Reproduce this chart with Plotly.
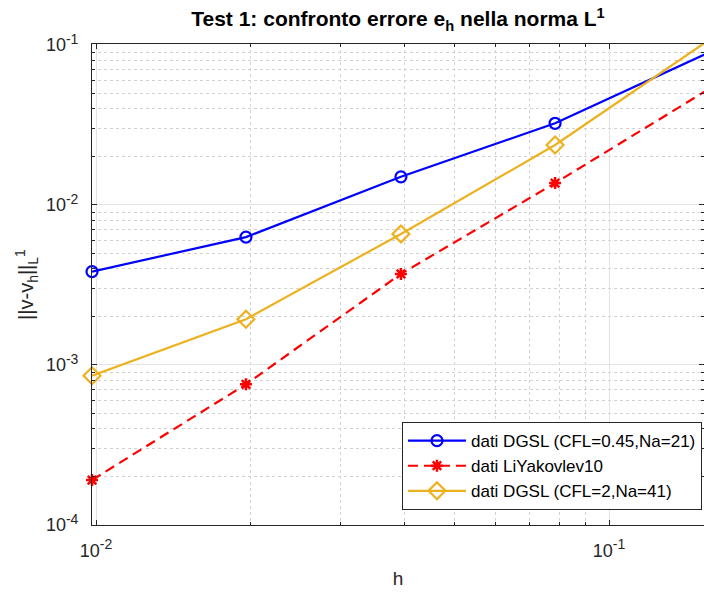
import numpy as np
import plotly.graph_objects as go

h = [0.00982, 0.0196, 0.0393, 0.0785, 0.157]
err_dgsl_045 = [0.00383, 0.0063, 0.0150, 0.0324, 0.090]
err_liyak = [0.000191, 0.000757, 0.00371, 0.0137, 0.0533]
err_dgsl_2 = [0.000857, 0.00193, 0.00659, 0.0237, 0.108]

names = ["dati DGSL (CFL=0.45,Na=21)", "dati LiYakovlev10", "dati DGSL (CFL=2,Na=41)"]
xtick_vals = [0.01, 0.1]
xtick_exp = ["-2", "-1"]
ytick_vals = [1e-4, 1e-3, 1e-2, 1e-1]
ytick_exp = ["-4", "-3", "-2", "-1"]

FONT = "Liberation Sans, Arial, sans-serif"


def pow_label(e):
    return "10<sup><span style='font-size:14px'>" + e + "</span></sup>"


fig = go.Figure()
fig.add_trace(go.Scatter(x=h, y=err_dgsl_045, name=names[0], mode="lines+markers",
                         line=dict(color="#0000FF", width=2.2),
                         marker=dict(symbol="circle-open", size=11, line=dict(width=2.2, color="#0000FF")),
                         cliponaxis=False))
fig.add_trace(go.Scatter(x=h, y=err_liyak, name=names[1], mode="lines+markers",
                         line=dict(color="#FF0000", width=2.2, dash="10px,6px"),
                         marker=dict(symbol="asterisk-open", size=10, line=dict(width=2.5, color="#FF0000")),
                         cliponaxis=False))
fig.add_trace(go.Scatter(x=h, y=err_dgsl_2, name=names[2], mode="lines+markers",
                         line=dict(color="#EDB120", width=2.2),
                         marker=dict(symbol="diamond-open", size=13, line=dict(width=2.2, color="#EDB120")),
                         cliponaxis=False))

xminor = [m * 10.0**e for e in (-3, -2, -1) for m in range(2, 10)]
yminor = [m * 10.0**e for e in (-5, -4, -3, -2, -1) for m in range(2, 10)]

axis_common = dict(
    type="log", showline=True, linecolor="#262626", linewidth=1, mirror="allticks",
    ticks="inside", ticklen=5, tickcolor="#262626", automargin=False,
    showgrid=True, gridcolor="#e2e2e2", gridwidth=1, zeroline=False,
    tickfont=dict(family=FONT, size=18, color="#262626"),
)

fig.update_xaxes(**axis_common,
                 range=[np.log10(0.00982), -0.8148],
                 tickmode="array", tickvals=xtick_vals,
                 ticktext=[pow_label(e) for e in xtick_exp],
                 ticklabelstandoff=9,
                 minor=dict(tickmode="array", tickvals=xminor, ticks="inside", ticklen=3,
                            tickcolor="#262626", showgrid=True, gridcolor="#d2d2d2", griddash="dot"),
                 title=dict(text="h", font=dict(family=FONT, size=19, color="#262626"), standoff=12))
fig.update_yaxes(**axis_common,
                 range=[-4, -0.994],
                 tickmode="array", tickvals=ytick_vals,
                 ticktext=[pow_label(e) for e in ytick_exp],
                 ticklabelstandoff=9,
                 minor=dict(tickmode="array", tickvals=yminor, ticks="inside", ticklen=3,
                            tickcolor="#262626", showgrid=True, gridcolor="#d2d2d2", griddash="dot"),
                 title=dict(text="||v-v<sub>h</sub>||<sub>L</sub><sup>1</sup>",
                            font=dict(family=FONT, size=20, color="#262626"), standoff=6))

fig.update_layout(
    width=704, height=592,
    margin=dict(l=92, r=0, t=44, b=67),
    paper_bgcolor="white", plot_bgcolor="white",
    title=dict(text="<b>Test 1: confronto errore e<sub>h</sub> nella norma L<sup>1</sup></b>",
               x=(92 + 704) / 2 / 704, xanchor="center", y=1 - 19 / 592, yanchor="middle",
               yref="container", xref="container",
               font=dict(family=FONT, size=21, color="black")),
    legend=dict(x=0.9967, y=0.031, xanchor="right", yanchor="bottom",
                bgcolor="white", bordercolor="#262626", borderwidth=1,
                font=dict(family=FONT, size=17, color="black"),
                tracegroupgap=0, itemwidth=58),
    showlegend=True,
)

fig.write_html("out.html", config={"displayModeBar": False},
               post_script="document.body.style.margin='0px';")
